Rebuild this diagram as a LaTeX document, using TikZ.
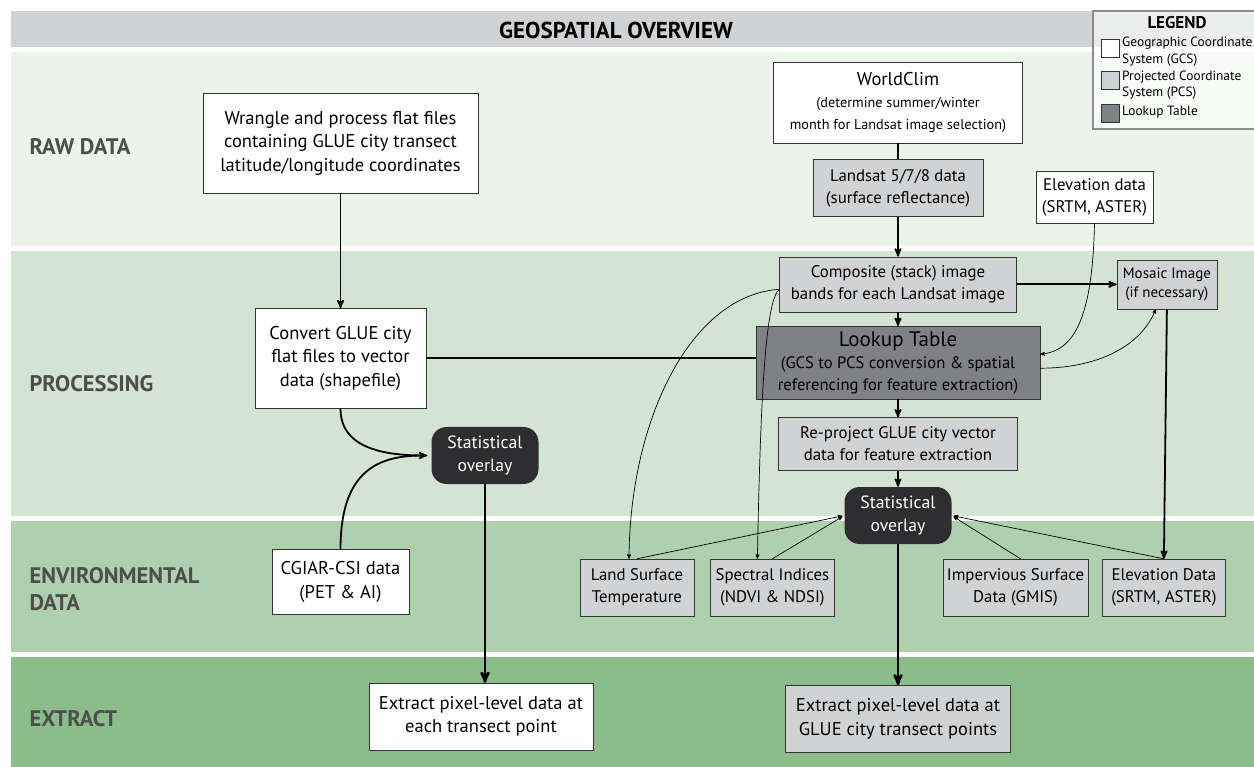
\documentclass[tikz,border=0pt]{standalone}
\usepackage{fontspec}
\setmainfont{PT Sans}
\usetikzlibrary{arrows,positioning}

\definecolor{rawband}{HTML}{EBF3EA}
\definecolor{procband}{HTML}{D3E5D2}
\definecolor{envband}{HTML}{AFD0AE}
\definecolor{extband}{HTML}{8ABD8A}
\definecolor{titleband}{HTML}{D1D2D4}
\definecolor{pcsgray}{HTML}{D1D2D4}
\definecolor{lookgray}{HTML}{808184}
\definecolor{statdark}{HTML}{2E2E30}
\definecolor{bandtext}{HTML}{4D4D4D}

\begin{document}
\begin{tikzpicture}[x=1pt,y=-1pt,
    gcs/.style={draw=black!80, fill=white, align=center, inner sep=2pt, font=\fontsize{16.8}{22}\selectfont},
    pcs/.style={gcs, fill=pcsgray},
    lookup/.style={gcs, fill=lookgray},
    bigtext/.style={font=\fontsize{18.5}{23.5}\selectfont},
    statbox/.style={fill=statdark, rounded corners=15pt, text=white, align=center, font=\fontsize{17.7}{23}\selectfont, minimum width=107pt, minimum height=57pt},
    bandlabel/.style={font=\bfseries\fontsize{22.5}{27}\selectfont, text=bandtext, align=left, anchor=west},
    swatch/.style={draw=black!80, minimum width=18pt, minimum height=18pt, inner sep=0pt},
    legtext/.style={anchor=west, align=left, font=\fontsize{13.4}{16.5}\selectfont, inner sep=0pt},
    link/.style={->,>=stealth',line width=1.8pt},
    heavylink/.style={->,>=stealth',line width=2.6pt},
    lightlink/.style={->,>=stealth',line width=0.7pt},
    node distance=16pt
  ]

  \useasboundingbox (0,0) rectangle (1254,767);
  \fill[white] (0,0) rectangle (1254,767);

  % bands
  \fill[titleband] (11,11) rectangle (1254,47);
  \fill[rawband] (11,52) rectangle (1254,246);
  \fill[procband] (11,251) rectangle (1254,516);
  \fill[envband] (11,521) rectangle (1254,652);
  \fill[extband] (11,657) rectangle (1254,767);

  \node[font=\bfseries\fontsize{23}{26}\selectfont] (title) at (616,30) {GEOSPATIAL OVERVIEW};

  \node[bandlabel] (rawlbl) at (26,147) {RAW DATA};
  \node[bandlabel] (proclbl) at (26,384) {PROCESSING};
  \node[bandlabel] (envlbl) at (26,589) {ENVIRONMENTAL\\DATA};
  \node[bandlabel] (extlbl) at (26,719) {EXTRACT};

  % legend
  \draw[draw=black!45, line width=1.2pt, fill=white, fill opacity=0.6] (1093,11) rectangle (1262,129);
  \node[font=\bfseries\fontsize{17}{20}\selectfont] (legtitle) at (1177,23) {LEGEND};
  \node[swatch, fill=white] (legA) at (1110,48.5) {};
  \node[swatch, fill=pcsgray] (legB) at (1110,80.5) {};
  \node[swatch, fill=lookgray] (legC) at (1110,113) {};
  \node[legtext] (legAtxt) at (1122,51.5) {Geographic Coordinate\\System (GCS)};
  \node[legtext] (legBtxt) at (1122,85) {Projected Coordinate\\System (PCS)};
  \node[legtext] (legCtxt) at (1122,112) {Lookup Table};

  % left column
  \node[gcs, bigtext, minimum width=275pt, minimum height=100pt] (wrangle) at (340.5,143) {Wrangle and process flat files\\containing GLUE city transect\\latitude/longitude coordinates};
  \node[gcs, bigtext, minimum width=171pt, minimum height=100pt, below=115pt of wrangle] (convert) {Convert GLUE city\\flat files to vector\\data (shapefile)};
  \node[statbox] (statL) at (485,455.5) {Statistical\\overlay};
  \node[gcs, bigtext, minimum width=137pt, minimum height=65pt] (cgiar) at (340.5,582) {CGIAR-CSI data\\(PET \& AI)};
  \node[gcs, bigtext, minimum width=224pt, minimum height=67pt] (extractL) at (481,716.5) {Extract pixel-level data at\\each transect point};

  % right column
  \node[gcs, minimum width=249pt, minimum height=81pt] (worldclim) at (898,102.5) {{\fontsize{18.5}{23}\selectfont WorldClim}\\{\fontsize{14.3}{21}\selectfont (determine summer/winter}\\{\fontsize{14.3}{21}\selectfont month for Landsat image selection)}};
  \node[pcs, minimum width=170pt, minimum height=57pt, below=16pt of worldclim] (landsat) {Landsat 5/7/8 data\\(surface reflectance)};
  \node[pcs, minimum width=237pt, minimum height=55pt, below=40pt of landsat] (composite) {Composite (stack) image\\bands for each Landsat image};
  \node[lookup, minimum width=284pt, minimum height=73pt, below=14pt of composite] (lookup) {{\fontsize{21}{24}\selectfont Lookup Table}\\{\fontsize{16.6}{21}\selectfont (GCS to PCS conversion \& spatial}\\{\fontsize{16.6}{21}\selectfont referencing for feature extraction)}};
  \node[pcs, minimum width=239pt, minimum height=53pt, below=18pt of lookup] (reproject) {Re-project GLUE city vector\\data for feature extraction};
  \node[statbox, below=16pt of reproject] (statR) {Statistical\\overlay};
  \node[pcs, bigtext, minimum width=225pt, minimum height=67pt, below=141pt of statR] (extractR) {Extract pixel-level data at\\GLUE city transect points};
  \node[pcs, minimum width=100pt, minimum height=49pt, right=100pt of composite, font=\fontsize{15}{19}\selectfont] (mosaic) {Mosaic Image\\(if necessary)};
  \node[gcs, minimum width=117pt, minimum height=52pt] (elevation) at (1094.5,197) {Elevation data\\(SRTM, ASTER)};

  % environmental data row
  \node[pcs, minimum width=114pt, minimum height=57pt] (lst) at (637,587.5) {Land Surface\\Temperature};
  \node[pcs, minimum width=124pt, minimum height=57pt, right=16pt of lst] (spectral) {Spectral Indices\\(NDVI \& NDSI)};
  \node[pcs, minimum width=145pt, minimum height=57pt] (impervious) at (1015.5,587.5) {Impervious Surface\\Data (GMIS)};
  \node[pcs, minimum width=123pt, minimum height=57pt, right=14pt of impervious] (elevD) {Elevation Data\\(SRTM, ASTER)};

  % connectors
  \draw[link] (wrangle) -- (convert);
  \draw[line width=1.8pt] (convert.east) -- (convert.east -| lookup.west);
  \draw[link, shorten >=4pt] (convert.south) .. controls +(0,42) and +(-42,0) .. (statL.west);
  \draw[line width=1.8pt, shorten >=8pt] (cgiar.north) .. controls +(0,-80) and +(-52,0) .. (statL.west);
  \draw[heavylink] (statL) -- (statL.south |- extractL.north);

  \draw[line width=1.6pt] (worldclim) -- (landsat);
  \draw[link] (landsat) -- (composite);
  \draw[link] (composite) -- (composite.south |- lookup.north);
  \draw[link] (lookup.south -| composite) -- (reproject);
  \draw[link] (reproject) -- (statR);
  \draw[heavylink] (statR) -- (extractR);
  \draw[link] (composite) -- (mosaic);
  \draw[link] (mosaic.south) -- (elevD.north);

  \draw[lightlink] (elevation.south) .. controls +(-2,97) and +(33,-3) .. ([yshift=8.5pt]lookup.east);
  \draw[lightlink] ([yshift=-5.5pt]lookup.east) .. controls +(58,0) and +(-15,37) .. ([xshift=-11pt]mosaic.south);
  \draw[lightlink] ([yshift=-5pt]composite.west) .. controls +(-89,6) and +(1,-139) .. ([xshift=-8pt]lst.north);
  \draw[lightlink] ([yshift=-5pt]composite.west) .. controls +(-14,11) and +(3,-159) .. ([xshift=-15pt]spectral.north);

  \draw[lightlink, shorten >=2pt] (lst.north) -- (statR.west);
  \draw[lightlink, shorten >=2pt] (spectral.north) -- (statR.west);
  \draw[lightlink, shorten >=2pt] ([xshift=5pt]impervious.north) -- (statR.east);
  \draw[lightlink, shorten >=2pt] (elevD.north) -- (statR.east);

\end{tikzpicture}
\end{document}
